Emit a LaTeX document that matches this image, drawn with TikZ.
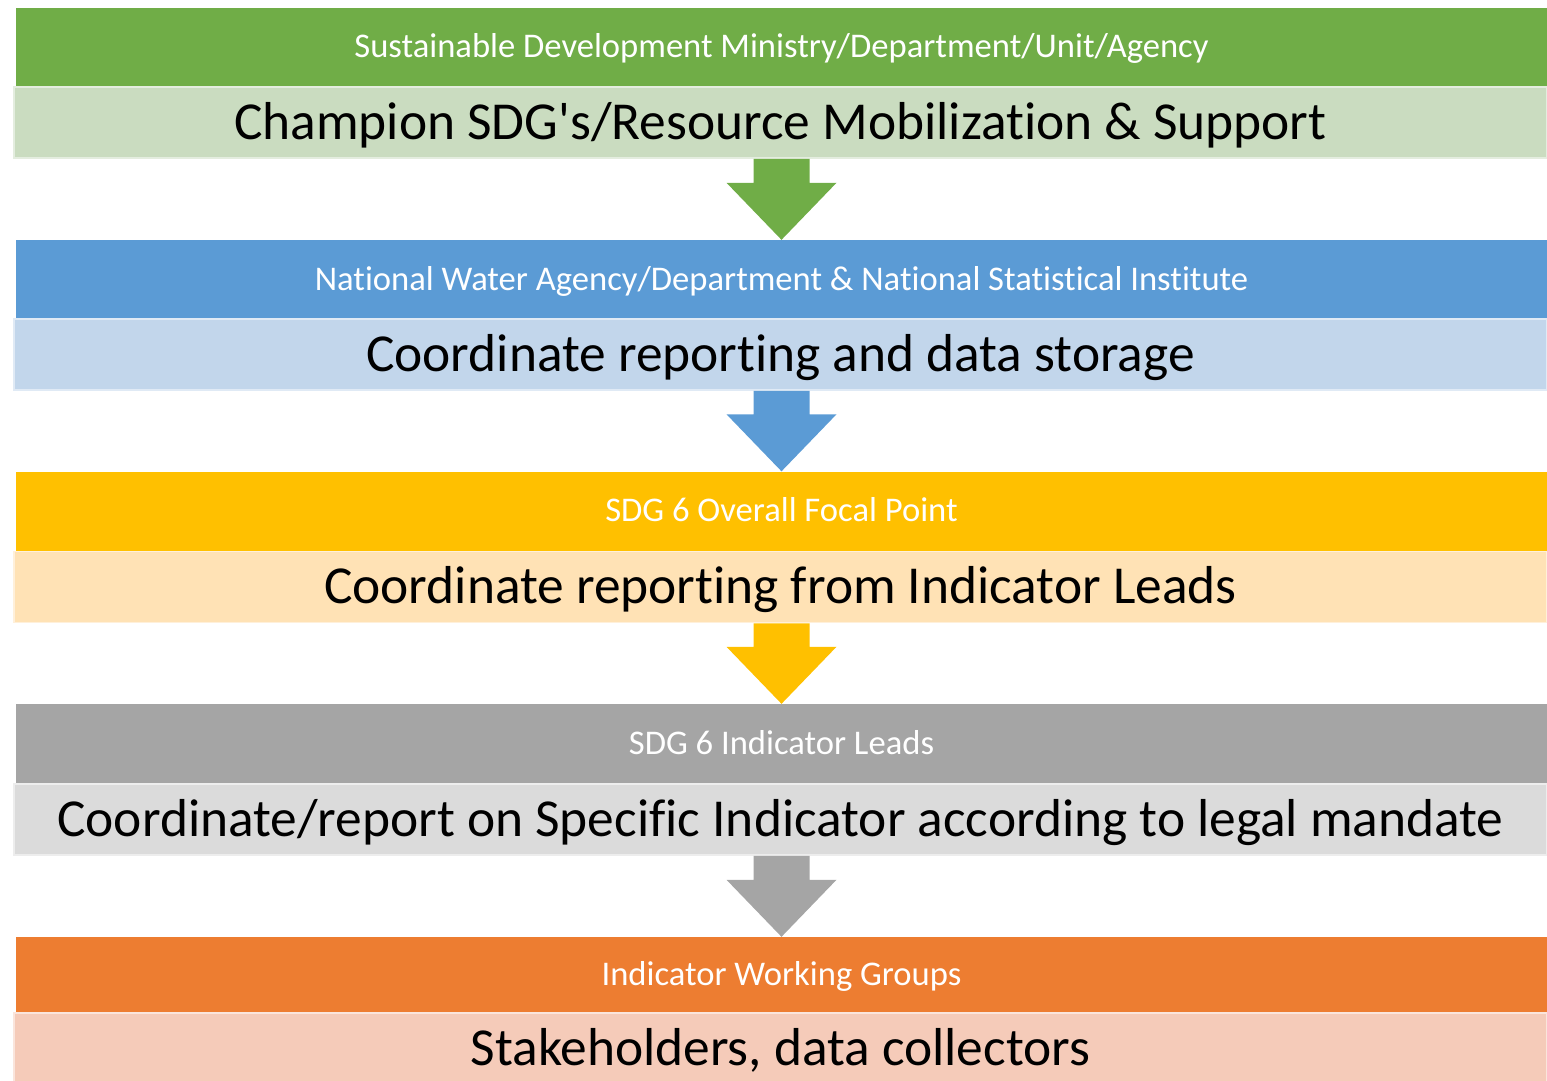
\documentclass[tikz,border=0pt]{standalone}
\usepackage{fontspec}
\setmainfont{Carlito}[Ligatures={NoCommon}]
\usetikzlibrary{calc, positioning}

\definecolor{grnD}{HTML}{70AD47}
\definecolor{grnL}{HTML}{CADCC0}
\definecolor{bluD}{HTML}{5B9BD5}
\definecolor{bluL}{HTML}{C2D6EB}
\definecolor{ylwD}{HTML}{FFC000}
\definecolor{ylwL}{HTML}{FFE2B5}
\definecolor{gryD}{HTML}{A5A5A5}
\definecolor{gryL}{HTML}{DBDBDB}
\definecolor{orgD}{HTML}{ED7D31}
\definecolor{orgL}{HTML}{F5CBB9}

\begin{document}
\begin{tikzpicture}[x=1pt, y=-1pt,
  head/.style={minimum width=1531pt, minimum height=79pt, inner sep=0pt,
    text height=30pt, text depth=9pt,
    text=white, font=\fontsize{34.6}{40}\selectfont},
  body/.style={minimum width=1533pt, minimum height=71pt, inner sep=0pt,
    text height=45pt, text depth=12pt, line width=1.5pt,
    text=black, font=\fontsize{53.4}{62}\selectfont}]
\useasboundingbox (0, 0) rectangle (1547, 1080);
\node[head, fill=grnD] (h1) at (781.5, 47) {Sustainable Development Ministry/Department/Unit/Agency};
\node[body, fill=grnL, draw=grnL!50!white] (b1) at (780.5, 122.5) {Champion SDG\textquotesingle s/Resource Mobilization \& Support};
\node[head, fill=bluD] (h2) at (781.5, 279.5) {National Water Agency/Department \& National Statistical Institute};
\node[body, fill=bluL, draw=bluL!50!white] (b2) at (780.5, 354.5) {Coordinate reporting and data storage};
\node[head, fill=ylwD] (h3) at (781.5, 511) {SDG 6 Overall Focal Point};
\node[body, fill=ylwL, draw=ylwL!50!white] (b3) at (780.5, 587) {Coordinate reporting from Indicator Leads};
\node[head, fill=gryD] (h4) at (781.5, 743.5) {SDG 6 Indicator Leads};
\node[body, fill=gryL, draw=gryL!50!white] (b4) at (780.5, 819.5) {Coordinate/report on Specific Indicator according to legal mandate};
\node[head, fill=orgD, minimum height=76pt] (h5) at (781.5, 975) {Indicator Working Groups};
\node[body, fill=orgL, draw=orgL!50!white] (b5) at (780.5, 1048.5) {Stakeholders, data collectors};
\foreach \a/\b/\c in {b1/h2/grnD, b2/h3/bluD, b3/h4/ylwD, b4/h5/gryD}
  \fill[\c] ($(\a.south -| \b.north)+(-28,0)$) -- ($(\a.south -| \b.north)+(28,0)$)
    -- ($(\b.north)+(28,-57)$) -- ($(\b.north)+(55,-57)$) -- (\b.north)
    -- ($(\b.north)+(-55,-57)$) -- ($(\b.north)+(-28,-57)$) -- cycle;
\end{tikzpicture}
\end{document}
